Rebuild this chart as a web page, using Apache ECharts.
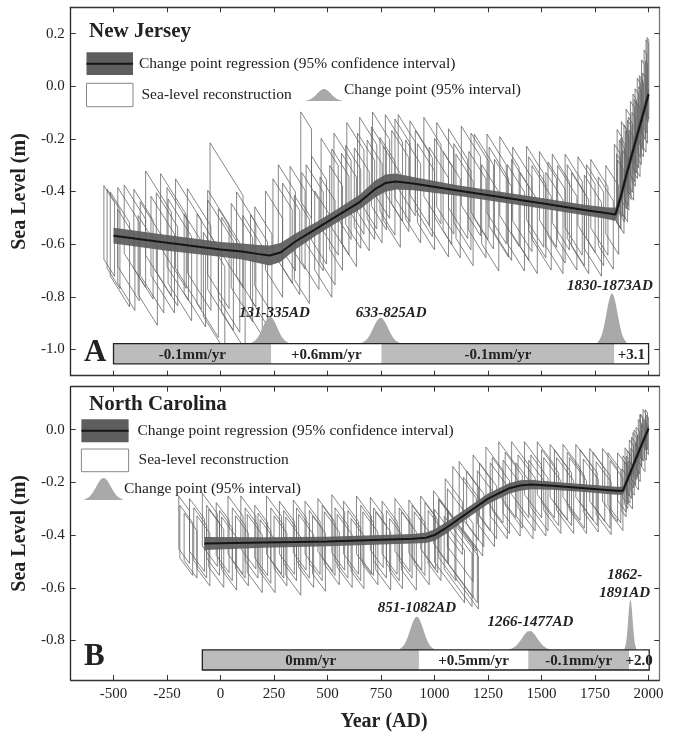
<!DOCTYPE html>
<html>
<head>
<meta charset="utf-8">
<script src="https://cdn.jsdelivr.net/npm/echarts@6.0.0/dist/echarts.min.js"></script>
<style>
  html, body { margin: 0; padding: 0; background: #fff; }
  #main { width: 674px; height: 733px; }
</style>
</head>
<body>
<div id="main"></div>
<script>
// ---- tick labels ----
var xTicks = [-500, -250, 0, 250, 500, 750, 1000, 1250, 1500, 1750, 2000];
var njYTicks = [-1.0, -0.8, -0.6, -0.4, -0.2, 0.0, 0.2];
var ncYTicks = [-0.8, -0.6, -0.4, -0.2, 0.0];

// ---- New Jersey: change point regression (mean and 95% half width) ----
var njYear = [-500, -250, 0, 100, 180, 230, 280, 350, 450, 550, 650, 720, 770, 820, 900, 1100, 1300, 1500, 1700, 1800, 1845, 1870, 1900, 1950, 2000];
var njMean = [-0.568, -0.595, -0.62, -0.628, -0.638, -0.643, -0.632, -0.59, -0.54, -0.49, -0.44, -0.392, -0.368, -0.362, -0.37, -0.395, -0.42, -0.445, -0.47, -0.482, -0.487, -0.42, -0.325, -0.177, -0.03];
var njHalf = [0.03, 0.03, 0.028, 0.03, 0.035, 0.038, 0.036, 0.03, 0.025, 0.025, 0.028, 0.032, 0.033, 0.03, 0.025, 0.02, 0.02, 0.02, 0.02, 0.022, 0.025, 0.025, 0.025, 0.025, 0.025];

// ---- New Jersey: sea-level reconstruction boxes ----
var njBoxAge = [-500, -470, -440, -400, -360, -320, -290, -250, -220, -190, -150, -120, 28, -60, 0, 60, 100, 150, 200, -30,
  250, 290, 330, 360, 400, 420, 460, 480, 510, 540, 570, 600, 630, 660, 690, 720, 750, 780, 810, 840,
  870, 900, 930, 960, 990, 1020, 1050, 1080, 1110, 1140, 1170, 1200, 1230, 1260, 1290, 1320, 1350, 1380,
  1410, 1440, 1470, 1500, 1530, 1560, 1590, 1620, 1650, 1680, 1710, 1740, 1770, 1800, 1830,
  1855, 1865, 1875, 1885, 1895, 1905, 1915, 1925, 1935, 1945, 1955, 1965, 1975, 1985, 1993, 1870, 1890, 1920, 1950, 1980,
  -520, -430, -340, -270, -200, -100, -10, 40, 120, 180,
  310, 380, 440, 500, 560, 620, 680, 740, 800, 850,
  950, 1040, 1130, 1210, 1300, 1400, 1480, 1570, 1660, 1750,
  1860, 1880, 1900, 1910, 1930, 1940, 1960, 1970, 1990, 1997];
var njBoxSL = [-0.58, -0.62, -0.66, -0.57, -0.60, -0.65, -0.56, -0.62, -0.55, -0.66, -0.60, -0.70, -0.49, -0.72, -0.68, -0.75, -0.67, -0.72, -0.66, -0.78,
  -0.60, -0.55, -0.58, -0.50, -0.30, -0.55, -0.47, -0.60, -0.42, -0.50, -0.38, -0.47, -0.35, -0.43, -0.33, -0.40, -0.30, -0.38, -0.31, -0.36,
  -0.30, -0.40, -0.33, -0.42, -0.32, -0.44, -0.35, -0.45, -0.37, -0.47, -0.36, -0.45, -0.40, -0.50, -0.39, -0.47, -0.40, -0.50,
  -0.43, -0.52, -0.42, -0.50, -0.43, -0.52, -0.44, -0.50, -0.45, -0.52, -0.45, -0.53, -0.46, -0.52, -0.47,
  -0.38, -0.33, -0.36, -0.30, -0.30, -0.25, -0.26, -0.21, -0.18, -0.16, -0.12, -0.10, -0.05, -0.02, 0.02, -0.42, -0.38, -0.30, -0.20, -0.10,
  -0.55, -0.60, -0.70, -0.64, -0.60, -0.62, -0.62, -0.70, -0.62, -0.70,
  -0.50, -0.62, -0.50, -0.55, -0.44, -0.42, -0.38, -0.35, -0.42, -0.32,
  -0.37, -0.40, -0.42, -0.38, -0.44, -0.47, -0.46, -0.48, -0.49, -0.49,
  -0.40, -0.35, -0.32, -0.28, -0.24, -0.20, -0.15, -0.12, -0.06, 0.03];
var njBoxAgeErr = [30, 45, 40, 50, 45, 55, 60, 50, 60, 55, 60, 50, 77, 50, 60, 55, 50, 45, 40, 50,
  40, 45, 40, 35, 25, 40, 35, 40, 40, 30, 40, 35, 40, 35, 40, 35, 40, 35, 40, 40,
  40, 35, 45, 40, 40, 45, 40, 40, 45, 40, 45, 40, 45, 40, 45, 40, 45, 40,
  45, 40, 40, 45, 40, 40, 40, 45, 40, 40, 40, 40, 40, 35, 30,
  15, 12, 12, 12, 10, 10, 10, 10, 8, 8, 8, 8, 8, 6, 5, 15, 12, 10, 10, 8,
  25, 50, 45, 55, 50, 55, 50, 50, 45, 40,
  40, 35, 40, 35, 40, 35, 40, 35, 40, 35,
  40, 40, 40, 40, 45, 40, 40, 40, 40, 40,
  10, 10, 8, 8, 8, 8, 6, 6, 5, 4];
var njBoxSLErr = [0.15, 0.16, 0.14, 0.13, 0.15, 0.14, 0.16, 0.15, 0.14, 0.16, 0.17, 0.15, 0.175, 0.17, 0.17, 0.18, 0.16, 0.17, 0.15, 0.16,
  0.15, 0.14, 0.16, 0.15, 0.17, 0.17, 0.16, 0.15, 0.17, 0.16, 0.15, 0.17, 0.16, 0.15, 0.16, 0.15, 0.15, 0.14, 0.15, 0.14,
  0.14, 0.15, 0.14, 0.15, 0.15, 0.15, 0.16, 0.15, 0.15, 0.16, 0.15, 0.15, 0.16, 0.15, 0.15, 0.14, 0.15, 0.15,
  0.14, 0.14, 0.14, 0.14, 0.13, 0.14, 0.13, 0.14, 0.14, 0.14, 0.13, 0.14, 0.13, 0.13, 0.13,
  0.14, 0.15, 0.14, 0.15, 0.14, 0.15, 0.13, 0.14, 0.14, 0.14, 0.14, 0.13, 0.14, 0.15, 0.15, 0.12, 0.12, 0.12, 0.13, 0.14,
  0.14, 0.15, 0.15, 0.15, 0.15, 0.16, 0.16, 0.17, 0.16, 0.16,
  0.15, 0.16, 0.15, 0.16, 0.15, 0.15, 0.15, 0.15, 0.14, 0.15,
  0.15, 0.15, 0.15, 0.15, 0.15, 0.14, 0.14, 0.14, 0.14, 0.14,
  0.13, 0.14, 0.14, 0.14, 0.13, 0.14, 0.14, 0.14, 0.15, 0.15];

// ---- New Jersey: change points and rate bar ----
var njCpYear = [231, 748, 1829];
var njCpHalf = [87, 89, 67];
var njCpPeak = [-0.876, -0.88, -0.788];
var njCpLabel = ['131-335AD', '633-825AD', '1830-1873AD'];
var njCpLabelAt = [[252, -0.862], [797, -0.862], [1819, -0.76]];
var njBarRange = [-1.055, -0.978];
var njBarStart = [-500, 237, 752, 1840];
var njBarEnd = [237, 752, 1840, 2000];
var njBarText = ['-0.1mm/yr', '+0.6mm/yr', '-0.1mm/yr', '+3.1'];

// ---- North Carolina: change point regression ----
var ncYear = [-75, 200, 500, 750, 900, 960, 1000, 1050, 1150, 1250, 1350, 1400, 1450, 1550, 1700, 1850, 1880, 1920, 1960, 2000];
var ncMean = [-0.432, -0.428, -0.424, -0.418, -0.414, -0.41, -0.4, -0.375, -0.318, -0.262, -0.222, -0.212, -0.208, -0.213, -0.222, -0.232, -0.232, -0.152, -0.072, 0.005];
var ncHalf = [0.025, 0.02, 0.018, 0.018, 0.018, 0.02, 0.022, 0.022, 0.02, 0.02, 0.02, 0.02, 0.018, 0.015, 0.015, 0.015, 0.015, 0.015, 0.015, 0.015];

// ---- North Carolina: sea-level reconstruction boxes ----
var ncBoxAge = [-170, -140, -110, -80, -50, -20, 10, 40, 70, 100, 130, 160, 190, 220, 250, 280, 310, 340, 370, 400,
  430, 460, 490, 520, 550, 580, 610, 640, 670, 700, 730, 760, 790, 820, 850, 880, 910, 940, 970, 1000,
  1030, 1060, 1090, 1120, 1140, 1100, 1130, 1160, 1190, 1220, 1250, 1280, 1310, 1340, 1370, 1400, 1430, 1460, 1490, 1520,
  1550, 1580, 1610, 1640, 1670, 1700, 1730, 1760, 1790, 1820, 1850, 1875,
  1890, 1900, 1910, 1920, 1930, 1940, 1950, 1960, 1970, 1980, 1990, 1885, 1915, 1945, 1975,
  -160, -95, -35, 25, 85, 145, 205, 265, 325, 385, 445, 505, 565, 625, 685, 745, 805, 865, 925, 985,
  1070, 1110, 1150, 1180, 1240, 1300, 1360, 1420, 1480, 1540, 1600, 1660, 1720, 1780, 1840,
  1895, 1905, 1925, 1935, 1955, 1965, 1985, 1995];
var ncBoxSL = [-0.38, -0.44, -0.40, -0.46, -0.38, -0.45, -0.41, -0.47, -0.40, -0.46, -0.39, -0.47, -0.42, -0.48, -0.40, -0.46, -0.41, -0.48, -0.40, -0.46,
  -0.41, -0.47, -0.40, -0.45, -0.39, -0.46, -0.41, -0.47, -0.40, -0.45, -0.39, -0.46, -0.41, -0.47, -0.40, -0.46, -0.40, -0.45, -0.39, -0.44,
  -0.37, -0.42, -0.33, -0.40, -0.30, -0.45, -0.48, -0.27, -0.30, -0.24, -0.27, -0.21, -0.25, -0.19, -0.23, -0.19, -0.24, -0.19, -0.24, -0.19,
  -0.25, -0.20, -0.25, -0.20, -0.25, -0.20, -0.25, -0.21, -0.26, -0.21, -0.25, -0.20,
  -0.19, -0.16, -0.17, -0.13, -0.12, -0.09, -0.08, -0.05, -0.03, 0.0, 0.0, -0.24, -0.21, -0.14, -0.07,
  -0.42, -0.43, -0.42, -0.44, -0.43, -0.43, -0.45, -0.43, -0.44, -0.43, -0.44, -0.42, -0.43, -0.44, -0.42, -0.43, -0.44, -0.43, -0.42, -0.41,
  -0.48, -0.50, -0.52, -0.33, -0.30, -0.27, -0.26, -0.27, -0.26, -0.22, -0.22, -0.23, -0.22, -0.23, -0.22,
  -0.21, -0.19, -0.16, -0.10, -0.11, -0.03, -0.04, -0.02];
var ncBoxAgeErr = [25, 30, 35, 30, 35, 35, 30, 35, 35, 30, 35, 35, 30, 35, 35, 30, 35, 35, 30, 35,
  35, 30, 35, 35, 30, 35, 35, 30, 35, 35, 30, 35, 35, 30, 35, 35, 30, 35, 35, 30,
  35, 40, 40, 60, 55, 80, 70, 45, 40, 40, 40, 40, 40, 40, 40, 40, 40, 40, 40, 40,
  40, 40, 40, 40, 40, 40, 35, 35, 35, 35, 30, 20,
  10, 10, 10, 10, 10, 8, 8, 8, 8, 6, 5, 10, 10, 8, 8,
  30, 30, 30, 30, 30, 30, 30, 30, 30, 30, 30, 30, 30, 30, 30, 30, 30, 30, 30, 30,
  70, 65, 55, 45, 40, 40, 40, 40, 40, 40, 40, 40, 40, 40, 30,
  8, 8, 8, 8, 6, 6, 5, 4];
var ncBoxSLErr = [0.10, 0.09, 0.10, 0.10, 0.10, 0.11, 0.10, 0.10, 0.11, 0.10, 0.10, 0.11, 0.10, 0.10, 0.11, 0.10, 0.10, 0.11, 0.10, 0.10,
  0.10, 0.11, 0.10, 0.10, 0.11, 0.10, 0.10, 0.10, 0.11, 0.10, 0.10, 0.11, 0.10, 0.10, 0.10, 0.11, 0.10, 0.10, 0.10, 0.10,
  0.10, 0.11, 0.10, 0.11, 0.10, 0.10, 0.10, 0.10, 0.10, 0.10, 0.10, 0.10, 0.10, 0.10, 0.10, 0.10, 0.10, 0.10, 0.10, 0.10,
  0.10, 0.10, 0.10, 0.10, 0.10, 0.10, 0.10, 0.10, 0.10, 0.10, 0.10, 0.09,
  0.08, 0.08, 0.08, 0.08, 0.08, 0.08, 0.08, 0.08, 0.08, 0.07, 0.07, 0.08, 0.08, 0.08, 0.08,
  0.10, 0.10, 0.10, 0.10, 0.10, 0.10, 0.10, 0.10, 0.10, 0.10, 0.10, 0.10, 0.10, 0.10, 0.10, 0.10, 0.10, 0.10, 0.10, 0.10,
  0.10, 0.10, 0.10, 0.10, 0.10, 0.10, 0.10, 0.10, 0.10, 0.10, 0.10, 0.10, 0.10, 0.10, 0.10,
  0.08, 0.08, 0.08, 0.08, 0.08, 0.08, 0.07, 0.07];

// ---- North Carolina: change points and rate bar ----
var ncCpYear = [917, 1444, 1915];
var ncCpHalf = [80, 95, 27];
var ncCpPeak = [-0.71, -0.764, -0.646];
var ncCpLabel = ['851-1082AD', '1266-1477AD', '1862-\n1891AD'];
var ncCpLabelAt = [[917, -0.676], [1448, -0.729], [1888, -0.585]];
var ncBarRange = [-0.912, -0.836];
var ncBarStart = [-85, 927, 1438, 1909];
var ncBarEnd = [927, 1438, 1909, 2003];
var ncBarText = ['0mm/yr', '+0.5mm/yr', '-0.1mm/yr', '+2.0'];

var FONT = '"Liberation Serif", "DejaVu Serif", serif';
var BAND = '#5e5e5e';
var HUMP = '#a9a9a9';
var BARGREY = '#bcbcbc';

var chart = echarts.init(document.getElementById('main'));

function xAx(grid, pos, showLabel) {
  return {
    type: 'value', gridIndex: grid, position: pos, min: -700, max: 2050,
    axisLine: { show: true, onZero: false, lineStyle: { color: '#333', width: 1.3 } },
    axisTick: { show: true, inside: true, length: 5, customValues: xTicks, lineStyle: { color: '#333' } },
    axisLabel: { show: showLabel, customValues: xTicks, margin: 7, color: '#222', fontSize: 15, fontFamily: FONT,
      formatter: function (v) { return String(v); } },
    splitLine: { show: false }
  };
}
function yAx(grid, pos, min, max, ticks, showLabel) {
  return {
    type: 'value', gridIndex: grid, position: pos, min: min, max: max,
    name: showLabel ? 'Sea Level (m)' : '', nameLocation: 'middle', nameGap: 40,
    nameTextStyle: { fontFamily: FONT, fontSize: 20, fontWeight: 'bold', color: '#222' },
    axisLine: { show: true, onZero: false, lineStyle: { color: pos === 'left' ? '#222' : '#777', width: 1.3 } },
    axisTick: { show: true, inside: true, length: 5, customValues: ticks, lineStyle: { color: '#333' } },
    axisLabel: { show: showLabel, customValues: ticks, margin: 6, color: '#222', fontSize: 15, fontFamily: FONT,
      formatter: function (v) { return v.toFixed(1); } },
    splitLine: { show: false }
  };
}

function zip() {
  var arrs = Array.prototype.slice.call(arguments);
  return arrs[0].map(function (_, i) { return arrs.map(function (a) { return a[i]; }); });
}

// parallelogram: vertical sides, sloped top/bottom
function boxRender(slope) {
  return function (params, api) {
    var a = api.value(0), s = api.value(1), w = api.value(2), h = api.value(3);
    var pts = [
      [a - w, s - slope * w + h], [a + w, s + slope * w + h],
      [a + w, s + slope * w - h], [a - w, s - slope * w - h]
    ].map(function (p) { return api.coord(p); });
    return { type: 'polygon', shape: { points: pts },
      style: { fill: 'none', stroke: '#5f5f5f', lineWidth: 0.75 } };
  };
}
function bandRender(years, mean, half) {
  return function (params, api) {
    var up = years.map(function (y, i) { return api.coord([y, mean[i] + half[i]]); });
    var lo = years.map(function (y, i) { return api.coord([y, mean[i] - half[i]]); }).reverse();
    return { type: 'polygon', shape: { points: up.concat(lo) }, style: { fill: BAND, opacity: 0.93 } };
  };
}
function humpRender(base) {
  return function (params, api) {
    var c = api.value(0), hw = api.value(1), pk = api.value(2);
    var pts = [api.coord([c - hw, base])];
    for (var k = -20; k <= 20; k++) {
      var u = k / 20, t = u * 2.6;
      pts.push(api.coord([c + u * hw, base + (pk - base) * Math.exp(-t * t / 2)]));
    }
    pts.push(api.coord([c + hw, base]));
    return { type: 'polygon', shape: { points: pts }, style: { fill: HUMP } };
  };
}
function barRender(range, texts) {
  return function (params, api) {
    var i = params.dataIndex;
    var p0 = api.coord([api.value(0), range[1]]), p1 = api.coord([api.value(1), range[0]]);
    return { type: 'group', children: [
      { type: 'rect', shape: { x: p0[0], y: p0[1], width: p1[0] - p0[0], height: p1[1] - p0[1] },
        style: { fill: i % 2 === 0 ? BARGREY : '#fff' } },
      { type: 'text', x: (p0[0] + p1[0]) / 2, y: (p0[1] + p1[1]) / 2 + 1,
        style: { text: texts[i], font: 'bold 15px ' + FONT, fill: '#222', align: 'center', verticalAlign: 'middle' } }
    ] };
  };
}
function outlineRender(range) {
  return function (params, api) {
    var p0 = api.coord([api.value(0), range[1]]), p1 = api.coord([api.value(1), range[0]]);
    return { type: 'rect', shape: { x: p0[0], y: p0[1], width: p1[0] - p0[0], height: p1[1] - p0[1] },
      style: { fill: 'none', stroke: '#222', lineWidth: 1.3 } };
  };
}
function labelRender(texts) {
  return function (params, api) {
    var p = api.coord([api.value(0), api.value(1)]);
    return { type: 'text', x: p[0], y: p[1],
      style: { text: texts[params.dataIndex], font: 'italic bold 15px ' + FONT, fill: '#222',
        align: 'center', verticalAlign: 'middle', lineHeight: 18 } };
  };
}

function panelSeries(xi, yi, d) {
  return [
    { type: 'custom', xAxisIndex: xi, yAxisIndex: yi, silent: true, z: 1,
      data: zip(d.boxAge, d.boxSL, d.boxAgeErr, d.boxSLErr), renderItem: boxRender(d.slope) },
    { type: 'custom', xAxisIndex: xi, yAxisIndex: yi, silent: true, z: 2,
      data: [[d.year[0], d.mean[0]]], renderItem: bandRender(d.year, d.mean, d.half) },
    { type: 'line', xAxisIndex: xi, yAxisIndex: yi, silent: true, z: 3, symbol: 'none',
      data: zip(d.year, d.mean), lineStyle: { color: '#151515', width: 2 } },
    { type: 'custom', xAxisIndex: xi, yAxisIndex: yi, silent: true, z: 4,
      data: zip(d.cpYear, d.cpHalf, d.cpPeak), renderItem: humpRender(d.barRange[1]) },
    { type: 'custom', xAxisIndex: xi, yAxisIndex: yi, silent: true, z: 5,
      data: zip(d.barStart, d.barEnd), renderItem: barRender(d.barRange, d.barText) },
    { type: 'custom', xAxisIndex: xi, yAxisIndex: yi, silent: true, z: 6,
      data: [[d.barStart[0], d.barEnd[d.barEnd.length - 1]]], renderItem: outlineRender(d.barRange) },
    { type: 'custom', xAxisIndex: xi, yAxisIndex: yi, silent: true, z: 7,
      data: d.cpLabelAt, renderItem: labelRender(d.cpLabel) }
  ];
}

// legend glyphs (pixel layout)
function bellPts(x0, x1, yBase, yPeak) {
  var pts = [[x0, yBase]];
  for (var k = -20; k <= 20; k++) {
    var u = k / 20, t = u * 2.6;
    pts.push([(x0 + x1) / 2 + u * (x1 - x0) / 2, yBase + (yPeak - yBase) * Math.exp(-t * t / 2)]);
  }
  pts.push([x1, yBase]);
  return pts;
}
function txt(x, y, s, font) {
  return { type: 'text', x: x, y: y, z: 20,
    style: { text: s, font: font, fill: '#222', align: 'left', verticalAlign: 'middle' } };
}
var regular = '15.5px ' + FONT;
var graphics = [
  txt(89, 32, 'New Jersey', 'bold 21px ' + FONT),
  { type: 'rect', z: 20, shape: { x: 86.5, y: 52.3, width: 46.5, height: 22.7 }, style: { fill: BAND } },
  { type: 'line', z: 21, shape: { x1: 86.5, y1: 63.7, x2: 133, y2: 63.7 }, style: { stroke: '#151515', lineWidth: 2 } },
  txt(139, 63.5, 'Change point regression (95% confidence interval)', regular),
  { type: 'rect', z: 20, shape: { x: 86.5, y: 83.3, width: 46.5, height: 23.4 }, style: { fill: '#fff', stroke: '#888', lineWidth: 1 } },
  txt(141.5, 94.5, 'Sea-level reconstruction', regular),
  { type: 'polygon', z: 20, shape: { points: bellPts(306, 342, 101, 89) }, style: { fill: HUMP } },
  txt(344, 90, 'Change point (95% interval)', regular),
  txt(84, 353, 'A', 'bold 31px ' + FONT),

  txt(89, 405, 'North Carolina', 'bold 21px ' + FONT),
  { type: 'rect', z: 20, shape: { x: 81.4, y: 419.3, width: 47.2, height: 23 }, style: { fill: BAND } },
  { type: 'line', z: 21, shape: { x1: 81.4, y1: 430.8, x2: 128.6, y2: 430.8 }, style: { stroke: '#151515', lineWidth: 2 } },
  txt(137.4, 431, 'Change point regression (95% confidence interval)', regular),
  { type: 'rect', z: 20, shape: { x: 81.4, y: 449, width: 47.2, height: 22.7 }, style: { fill: '#fff', stroke: '#888', lineWidth: 1 } },
  txt(138.6, 460, 'Sea-level reconstruction', regular),
  { type: 'polygon', z: 20, shape: { points: bellPts(84.5, 122.6, 500, 478) }, style: { fill: HUMP } },
  txt(124, 489, 'Change point (95% interval)', regular),
  txt(84, 657, 'B', 'bold 31px ' + FONT)
];

var nj = { boxAge: njBoxAge, boxSL: njBoxSL, boxAgeErr: njBoxAgeErr, boxSLErr: njBoxSLErr, slope: -0.0013,
  year: njYear, mean: njMean, half: njHalf, cpYear: njCpYear, cpHalf: njCpHalf, cpPeak: njCpPeak,
  cpLabel: njCpLabel, cpLabelAt: njCpLabelAt, barRange: njBarRange, barStart: njBarStart, barEnd: njBarEnd, barText: njBarText };
var nc = { boxAge: ncBoxAge, boxSL: ncBoxSL, boxAgeErr: ncBoxAgeErr, boxSLErr: ncBoxSLErr, slope: -0.0011,
  year: ncYear, mean: ncMean, half: ncHalf, cpYear: ncCpYear, cpHalf: ncCpHalf, cpPeak: ncCpPeak,
  cpLabel: ncCpLabel, cpLabelAt: ncCpLabelAt, barRange: ncBarRange, barStart: ncBarStart, barEnd: ncBarEnd, barText: ncBarText };

var xBottomB = xAx(1, 'bottom', true);
xBottomB.name = 'Year (AD)';
xBottomB.nameLocation = 'middle';
xBottomB.nameGap = 32;
xBottomB.nameTextStyle = { fontFamily: FONT, fontSize: 20, fontWeight: 'bold', color: '#222', padding: [0, 0, 0, 38] };

var option = {
  animation: false,
  backgroundColor: '#fff',
  grid: [
    { left: 70.7, right: 14.7, top: 7.3, height: 368.4 },
    { left: 70.7, right: 14.7, top: 386.7, height: 293.3 }
  ],
  xAxis: [xAx(0, 'bottom', false), xAx(0, 'top', false), xBottomB, xAx(1, 'top', false)],
  yAxis: [
    yAx(0, 'left', -1.1, 0.3, njYTicks, true), yAx(0, 'right', -1.1, 0.3, njYTicks, false),
    yAx(1, 'left', -0.95, 0.163, ncYTicks, true), yAx(1, 'right', -0.95, 0.163, ncYTicks, false)
  ],
  graphic: graphics,
  series: panelSeries(0, 0, nj).concat(panelSeries(2, 2, nc))
};
chart.setOption(option);
</script>
</body>
</html>
